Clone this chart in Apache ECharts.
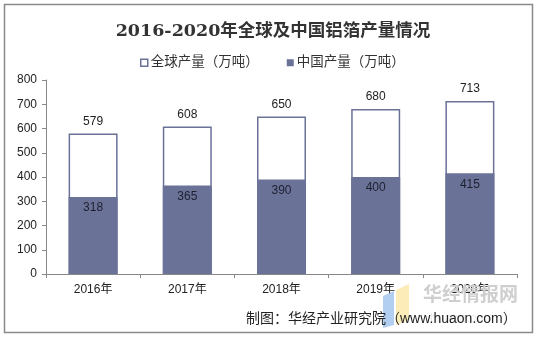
<!DOCTYPE html>
<html><head><meta charset="utf-8">
<script src="https://cdn.jsdelivr.net/npm/echarts@6/dist/echarts.min.js"></script>
<style>html,body{margin:0;padding:0;background:#fff}#c{width:540px;height:343px}</style>
</head><body><div id="c"></div>
<script>
const categories = ['2016年','2017年','2018年','2019年','2020年'];
const globalOutput = [579, 608, 650, 680, 713];
const chinaOutput = [318, 365, 390, 400, 415];
const seriesNames = ['全球产量（万吨）','中国产量（万吨）'];
const yTicks = {min: 0, max: 800, interval: 100};

const chart = echarts.init(document.getElementById('c'));
const FONT = '"Liberation Sans", Arial, "Noto Sans CJK SC", sans-serif';
const barColor = '#6a7298';
chart.setOption({
  animation: false,
  backgroundColor: '#fff',
  title: {
    text: '2016-2020年全球及中国铝箔产量情况',
    left: 268, top: 18, textAlign: 'center',
    textStyle: {fontFamily: '"DejaVu Serif", "Noto Sans CJK SC", serif', fontWeight: 'bold', fontSize: 17.5, color: '#333'}
  },
  legend: {
    top: 51, left: 135,
    itemWidth: 7, itemHeight: 7, itemGap: 28,
    textStyle: {fontFamily: FONT, fontSize: 13.5, color: '#333', padding: [0,0,0,-2]},
    data: [
      {name: seriesNames[0], icon: 'rect', itemStyle: {color: '#fff', borderColor: barColor, borderWidth: 1.5}},
      {name: seriesNames[1], icon: 'rect', itemStyle: {color: barColor}}
    ]
  },
  grid: {left: 46, right: 23, top: 80, bottom: 69, containLabel: false},
  xAxis: {
    type: 'category', data: categories,
    axisLine: {lineStyle: {color: '#888'}},
    axisTick: {show: true, length: 4, lineStyle: {color: '#888'}},
    axisLabel: {fontFamily: FONT, fontSize: 12, color: '#222', margin: 10}
  },
  yAxis: {
    type: 'value', min: yTicks.min, max: yTicks.max, interval: yTicks.interval,
    axisLine: {show: true, lineStyle: {color: '#888'}},
    axisTick: {show: true, length: 4, lineStyle: {color: '#888'}},
    splitLine: {show: false},
    axisLabel: {fontFamily: FONT, fontSize: 12, color: '#222', margin: 9}
  },
  series: [
    {
      name: seriesNames[0], type: 'bar', data: globalOutput,
      barWidth: '52%', barGap: '-100%',
      itemStyle: {color: '#fff', borderColor: barColor, borderWidth: 1.5},
      label: {show: true, position: 'top', distance: 6, fontFamily: FONT, fontSize: 12, color: '#222'}
    },
    {
      name: seriesNames[1], type: 'bar', data: chinaOutput,
      barWidth: '52%',
      itemStyle: {color: barColor},
      label: {show: true, position: 'insideTop', distance: 5, fontFamily: FONT, fontSize: 12, color: '#1e2030'}
    }
  ],
  graphic: [
    {type: 'rect', shape: {x: 4.5, y: 4.5, width: 528, height: 328}, style: {fill: null, stroke: '#8a8a8a', lineWidth: 1.5}, silent: true, z: 100},
    {type: 'polygon', shape: {points: [[383,296],[394,291],[394,325],[383,328]]}, style: {fill: '#9fc3ee', opacity: 0.8}, z: 1},
    {type: 'polygon', shape: {points: [[396,290],[409,284],[409,320],[396,325]]}, style: {fill: '#fbe9a6', opacity: 0.8}, z: 1},
    {type: 'text', left: 423, top: 284, style: {text: '华经情报网', font: 'bold 19px "Noto Sans CJK SC", sans-serif', fill: '#cfcfcf'}, z: 1},
    {type: 'text', left: 430, top: 312, style: {text: 'huaon.com', font: '13px "Liberation Sans", sans-serif', fill: '#ececec'}, z: 1},
    {type: 'text', left: 246, top: 312, style: {text: '制图：华经产业研究院（www.huaon.com）', font: '14px "Liberation Sans", "Noto Sans CJK SC", sans-serif', fill: '#222'}, z: 10}
  ]
});
</script></body></html>
